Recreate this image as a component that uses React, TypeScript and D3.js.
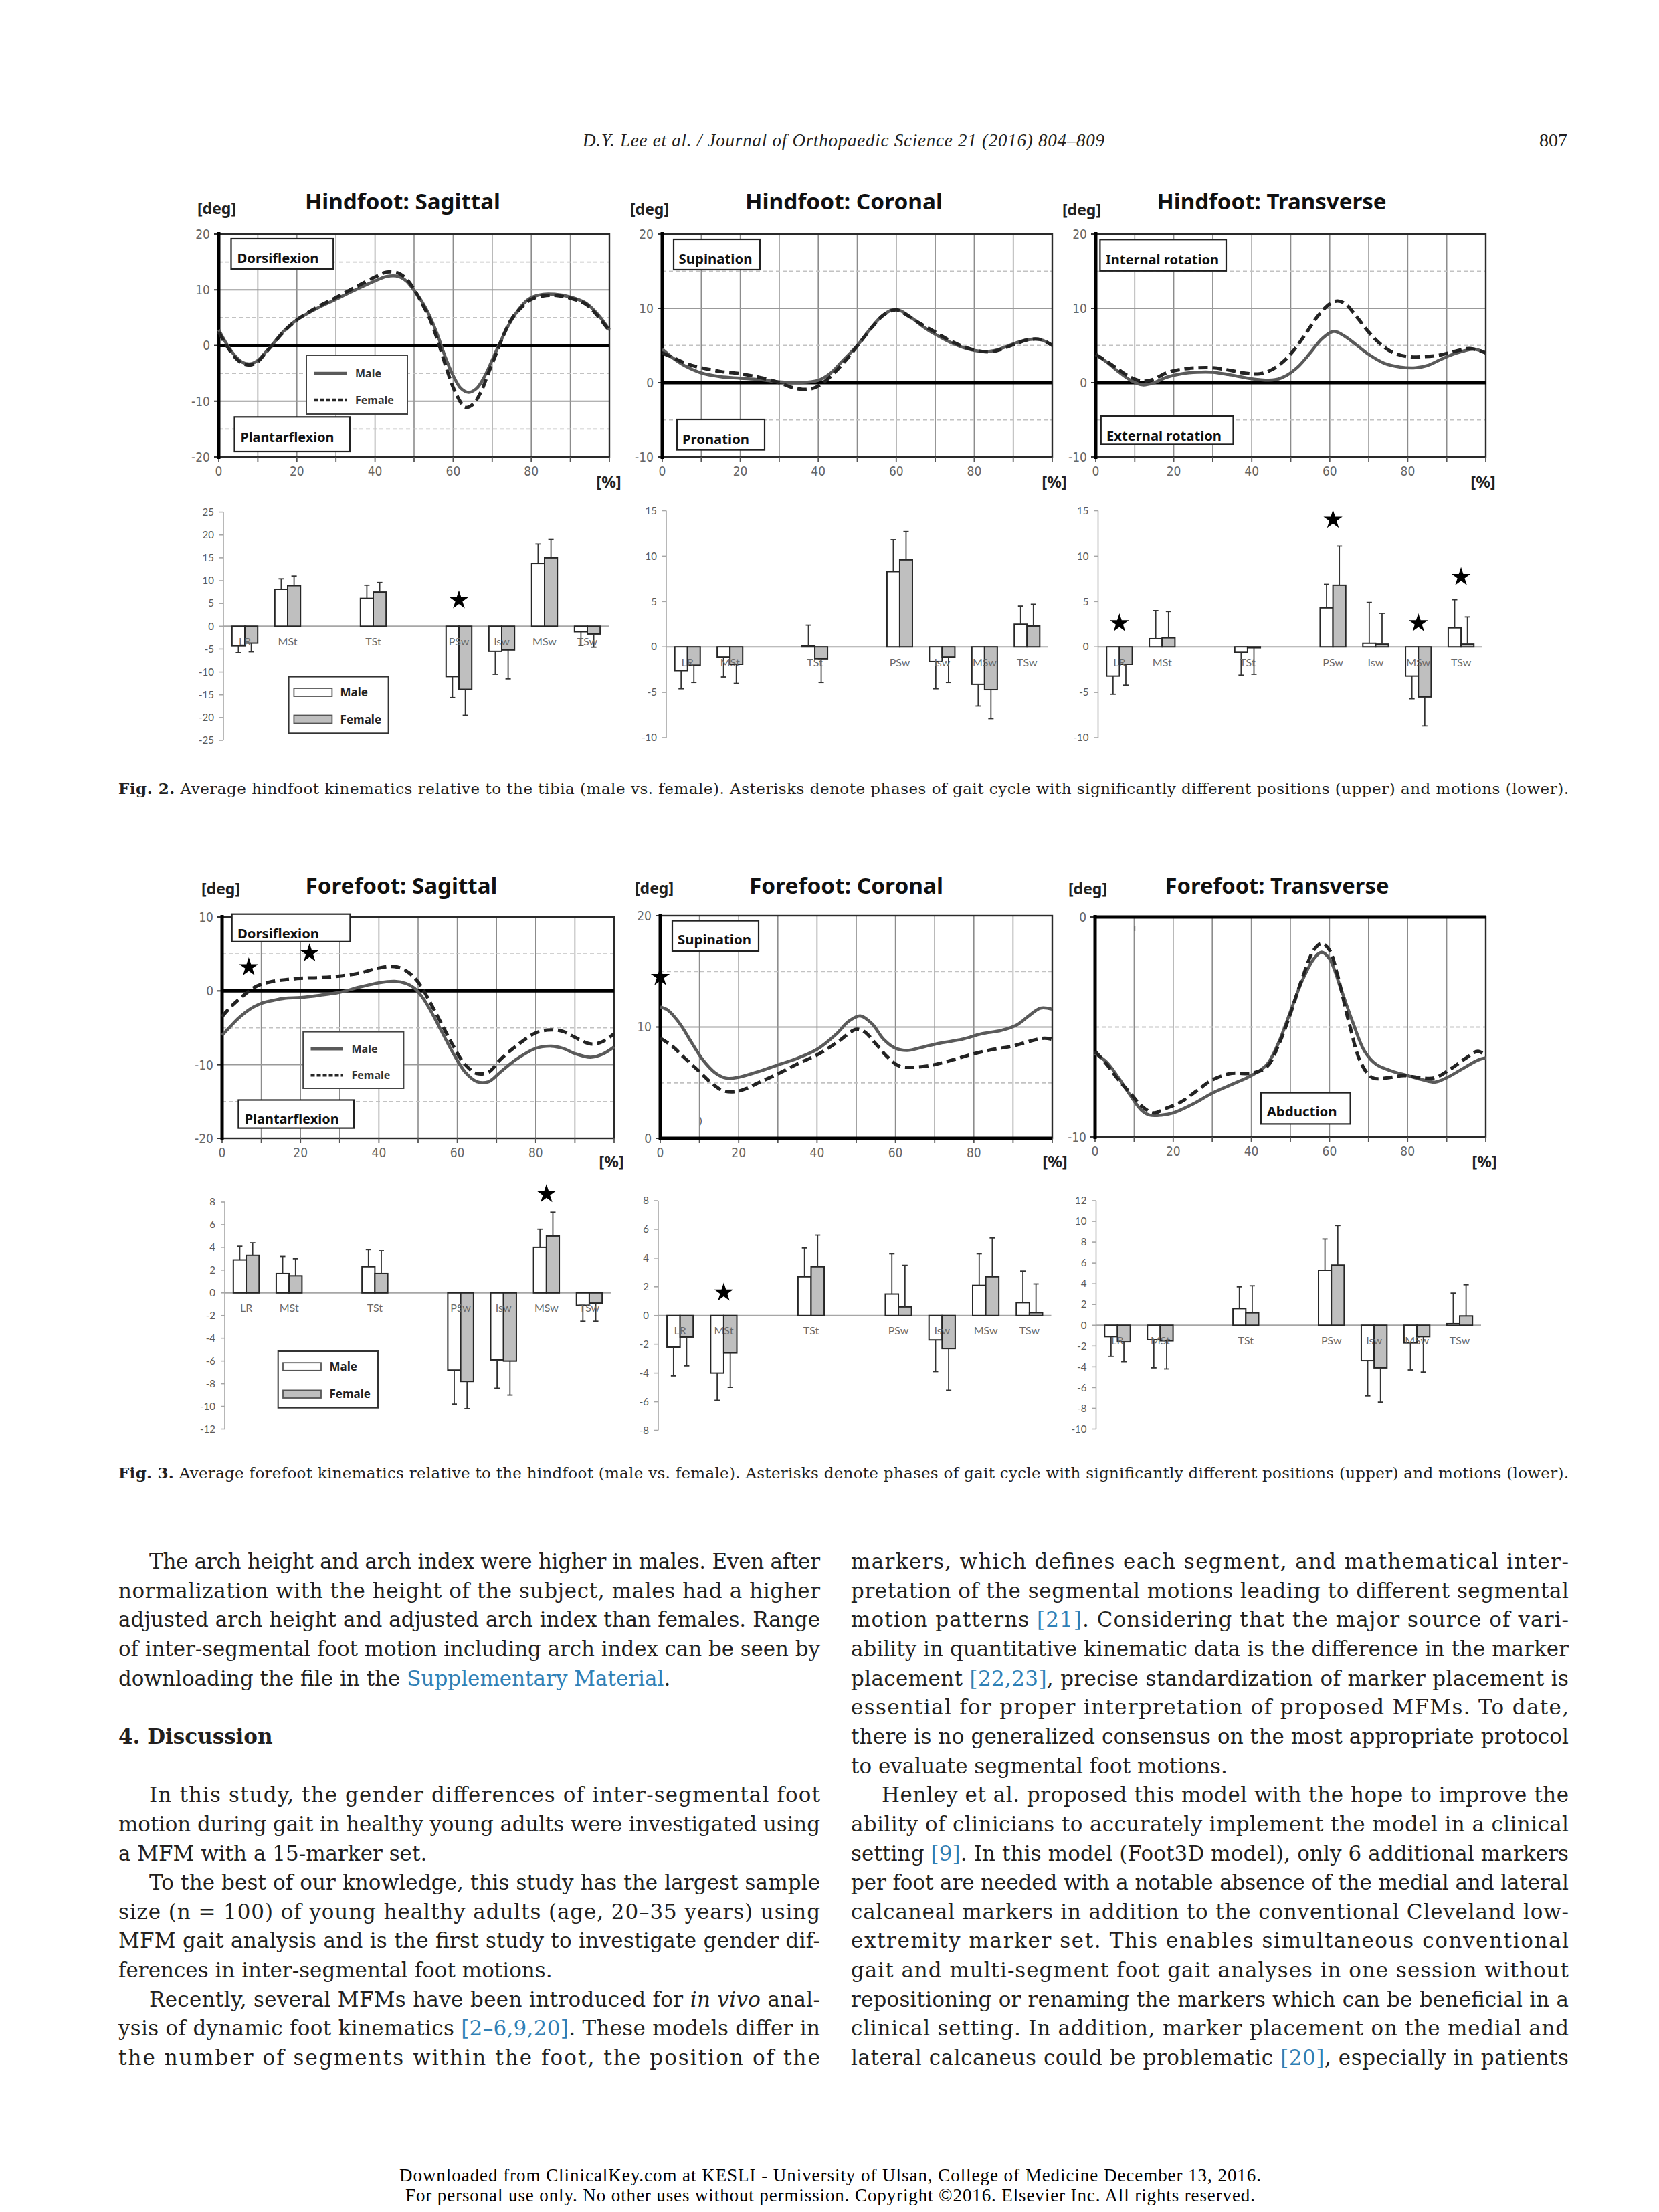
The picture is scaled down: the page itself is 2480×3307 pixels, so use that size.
import React from "react";
import * as d3 from "d3";

type Pt = [number, number];

// ------------------------------------------------------------------
// DATA
// ------------------------------------------------------------------
const hindSagMale: Pt[] = [[0,2.8],[2,0.3],[4,-1.7],[6,-3.0],[8,-3.3],[10,-2.7],[12,-1.2],[14,0.4],[16,2.1],[18,3.5],[20,4.6],[25,6.6],[30,8.3],[35,10.0],[40,11.6],[43,12.4],[46,12.4],[48,11.6],[50,9.9],[52,7.9],[54,5.3],[56,1.9],[58,-2.1],[60,-5.4],[62,-7.7],[64,-8.4],[66,-7.7],[68,-5.6],[70,-2.6],[72,0.5],[74,3.4],[76,5.7],[78,7.5],[80,8.6],[83,9.2],[86,9.2],[90,8.7],[94,7.6],[97,5.6],[100,2.8]];
const hindSagFemale: Pt[] = [[0,2.4],[2,0.0],[4,-2.0],[6,-3.2],[8,-3.5],[10,-2.9],[12,-1.3],[14,0.3],[16,2.0],[18,3.4],[20,4.6],[25,6.8],[30,8.6],[35,10.5],[40,12.3],[43,13.2],[46,13.0],[48,12.0],[50,10.1],[52,7.6],[54,4.8],[56,1.0],[58,-3.5],[60,-7.5],[62,-10.3],[63,-11.1],[65,-10.6],[67,-8.5],[69,-5.0],[71,-1.5],[73,2.0],[75,4.8],[78,7.2],[80,8.3],[83,8.9],[86,9.0],[90,8.5],[94,7.4],[97,5.3],[100,2.6]];

const hindCorMale: Pt[] = [[0,4.5],[3,3.2],[6,2.2],[10,1.3],[15,0.8],[20,0.6],[25,0.4],[30,0.1],[35,0.0],[40,0.3],[43,1.2],[46,2.8],[50,5.0],[53,7.0],[56,8.8],[59,9.8],[61,9.7],[64,8.7],[67,7.5],[70,6.5],[74,5.4],[78,4.6],[82,4.2],[85,4.3],[88,4.8],[91,5.4],[94,5.8],[97,5.8],[100,5.0]];
const hindCorFemale: Pt[] = [[0,4.0],[3,3.3],[6,2.6],[10,2.0],[15,1.5],[20,1.2],[25,0.7],[30,0.0],[33,-0.6],[36,-0.9],[39,-0.7],[42,0.3],[45,1.8],[48,3.6],[51,5.6],[54,7.6],[57,9.2],[60,9.8],[63,9.0],[66,8.0],[70,6.8],[74,5.6],[78,4.7],[82,4.2],[85,4.2],[88,4.7],[91,5.3],[94,5.8],[97,5.8],[100,5.0]];

const hindTraMale: Pt[] = [[0,3.8],[3,2.7],[6,1.4],[9,0.3],[12,-0.3],[15,0.0],[18,0.7],[22,1.2],[26,1.4],[30,1.4],[34,1.1],[38,0.7],[42,0.4],[46,0.4],[49,1.0],[52,2.2],[55,4.0],[58,5.9],[61,6.9],[64,6.2],[67,5.0],[70,3.8],[74,2.6],[78,2.1],[82,2.0],[85,2.3],[88,3.0],[91,3.7],[94,4.2],[97,4.5],[100,4.0]];
const hindTraFemale: Pt[] = [[0,3.8],[3,2.8],[6,1.7],[9,0.7],[12,0.2],[15,0.5],[18,1.3],[22,1.8],[26,2.0],[30,2.0],[34,1.7],[38,1.3],[42,1.2],[45,1.7],[48,2.8],[51,4.5],[54,6.7],[57,9.0],[60,10.6],[62,11.0],[64,10.6],[67,8.8],[70,6.8],[73,5.2],[76,4.1],[80,3.5],[84,3.5],[88,3.7],[92,4.2],[96,4.6],[100,4.0]];

const foreSagMale: Pt[] = [[0,-6.0],[2,-4.9],[4,-3.8],[6,-2.9],[8,-2.2],[10,-1.7],[13,-1.3],[16,-1.0],[20,-0.9],[25,-0.6],[30,-0.2],[35,0.5],[40,1.1],[44,1.3],[47,1.0],[49,0.4],[51,-0.8],[53,-2.5],[56,-5.5],[59,-8.5],[62,-11.0],[65,-12.3],[68,-12.3],[71,-11.0],[75,-9.3],[80,-7.8],[84,-7.5],[87,-7.8],[90,-8.5],[94,-9.0],[97,-8.6],[100,-7.6]];
const foreSagFemale: Pt[] = [[0,-3.5],[2,-2.3],[4,-1.3],[6,-0.4],[8,0.4],[10,0.9],[13,1.3],[16,1.5],[20,1.7],[25,1.8],[30,2.0],[35,2.4],[40,3.1],[44,3.3],[47,2.7],[50,1.2],[53,-1.5],[56,-4.5],[59,-7.5],[62,-10.0],[65,-11.2],[68,-11.0],[71,-9.3],[75,-7.5],[80,-5.7],[84,-5.3],[87,-5.5],[90,-6.3],[94,-7.2],[97,-6.9],[100,-5.8]];

const foreCorMale: Pt[] = [[0,11.8],[2,11.5],[5,10.3],[8,8.6],[11,7.0],[14,5.9],[17,5.4],[20,5.5],[25,6.0],[30,6.6],[35,7.2],[40,8.0],[45,9.4],[48,10.5],[51,11.0],[54,10.3],[57,8.9],[60,8.1],[63,7.9],[67,8.2],[72,8.6],[77,8.9],[82,9.4],[87,9.7],[91,10.2],[94,11.0],[97,11.7],[100,11.6]];
const foreCorFemale: Pt[] = [[0,9.0],[3,8.3],[6,7.3],[10,6.0],[13,5.0],[16,4.3],[19,4.2],[22,4.5],[25,5.0],[30,5.8],[35,6.7],[40,7.5],[45,8.6],[50,9.8],[52,9.6],[55,8.5],[58,7.3],[61,6.5],[64,6.4],[68,6.5],[72,6.8],[76,7.2],[80,7.6],[85,8.0],[90,8.3],[95,8.8],[98,9.0],[100,8.9]];

const foreTraMale: Pt[] = [[0,-6.2],[3,-6.6],[6,-7.3],[9,-8.1],[12,-8.8],[14,-9.0],[17,-9.0],[20,-8.9],[25,-8.5],[30,-8.0],[35,-7.6],[40,-7.2],[44,-6.7],[47,-5.7],[50,-4.3],[53,-2.9],[56,-1.9],[58,-1.6],[60,-1.9],[63,-3.3],[66,-4.8],[69,-6.1],[72,-6.7],[76,-7.0],[80,-7.2],[84,-7.4],[87,-7.5],[90,-7.3],[94,-6.9],[98,-6.5],[100,-6.4]];
const foreTraFemale: Pt[] = [[0,-6.1],[3,-6.7],[6,-7.4],[9,-8.0],[12,-8.6],[15,-8.9],[18,-8.7],[22,-8.4],[26,-7.9],[30,-7.4],[35,-7.1],[40,-7.1],[44,-6.8],[47,-5.8],[50,-4.4],[53,-2.8],[56,-1.5],[58,-1.2],[60,-1.5],[62,-2.6],[65,-4.8],[68,-6.6],[71,-7.3],[75,-7.3],[79,-7.2],[83,-7.3],[87,-7.3],[91,-6.9],[95,-6.4],[98,-6.1],[100,-6.3]];

// significance stars on the curves [gait %, deg]
const foreSagStars: Pt[] = [[6.8, 3.2], [22.3, 5.1]];
const foreCorStars: Pt[] = [[0, 14.5]];

const xTickLabels = [0, 20, 40, 60, 80];
const xGridValues = [10, 20, 30, 40, 50, 60, 70, 80, 90];

// gait phases (blank slots as in the source chart)
const phaseSlots = ["LR", "MSt", "gap1", "TSt", "gap2", "PSw", "Isw", "MSw", "TSw"];
const phaseLabels = ["LR", "MSt", "", "TSt", "", "PSw", "Isw", "MSw", "TSw"];
const phases = ["LR", "MSt", "TSt", "PSw", "Isw", "MSw", "TSw"];
const sexes = ["Male", "Female"];

// Hindfoot sagittal motion
const hsMale = [-4.3, 8.1, 6.1, -11.0, -5.5, 13.8, -1.2];
const hsMaleSD = [1.5, 2.3, 2.9, 4.6, 5.0, 4.2, 3.0];
const hsFemale = [-3.7, 8.9, 7.5, -13.8, -5.2, 15.0, -1.7];
const hsFemaleSD = [1.9, 2.1, 2.1, 5.7, 6.3, 4.0, 2.9];
const hsStars = [{ phase: "PSw", v: 5.7 }];
const hsTicks = [25, 20, 15, 10, 5, 0, -5, -10, -15, -20, -25];

// Hindfoot coronal motion
const hcMale = [-2.6, -1.1, 0.1, 8.3, -1.6, -4.1, 2.5];
const hcMaleSD = [2.0, 2.2, 2.3, 3.5, 3.0, 2.4, 2.0];
const hcFemale = [-2.0, -1.9, -1.3, 9.6, -1.1, -4.7, 2.3];
const hcFemaleSD = [1.9, 2.1, 2.6, 3.1, 2.8, 3.2, 2.4];
const hcStars: { phase: string; v: number }[] = [];
const hcTicks = [15, 10, 5, 0, -5, -10];

// Hindfoot transverse motion
const htMale = [-3.2, 0.9, -0.6, 4.3, 0.4, -3.2, 2.1];
const htMaleSD = [2.0, 3.1, 2.5, 2.6, 4.5, 2.5, 3.1];
const htFemale = [-1.9, 1.0, -0.1, 6.8, 0.3, -5.5, 0.3];
const htFemaleSD = [2.3, 2.9, 2.9, 4.3, 3.4, 3.2, 3.0];
const htStars = [{ phase: "LR", v: 2.6 }, { phase: "PSw", v: 14.0 }, { phase: "MSw", v: 2.6 }, { phase: "TSw", v: 7.7 }];
const htTicks = [15, 10, 5, 0, -5, -10];

// Forefoot sagittal motion
const fsMale = [2.9, 1.7, 2.3, -6.8, -5.9, 4.0, -1.1];
const fsMaleSD = [1.2, 1.5, 1.5, 3.0, 2.5, 1.6, 1.4];
const fsFemale = [3.3, 1.5, 1.7, -7.8, -6.0, 5.0, -0.9];
const fsFemaleSD = [1.1, 1.5, 2.0, 2.4, 3.0, 2.1, 1.6];
const fsStars = [{ phase: "MSw", v: 8.7 }];
const fsTicks = [8, 6, 4, 2, 0, -2, -4, -6, -8, -10, -12];

// Forefoot coronal motion
const fcMale = [-2.2, -4.0, 2.7, 1.5, -1.7, 2.1, 0.9];
const fcMaleSD = [2.0, 1.9, 2.0, 2.8, 2.2, 2.2, 2.2];
const fcFemale = [-1.5, -2.6, 3.4, 0.6, -2.3, 2.7, 0.2];
const fcFemaleSD = [2.0, 2.4, 2.2, 2.9, 2.9, 2.7, 2.0];
const fcStars = [{ phase: "MSt", v: 1.6 }];
const fcTicks = [8, 6, 4, 2, 0, -2, -4, -6, -8];

// Forefoot transverse motion
const ftMale = [-1.1, -1.4, 1.6, 5.3, -3.4, -1.7, 0.15];
const ftMaleSD = [1.9, 2.7, 2.1, 3.0, 3.4, 2.6, 2.95];
const ftFemale = [-1.6, -1.5, 1.2, 5.8, -4.1, -1.1, 0.9];
const ftFemaleSD = [1.9, 2.7, 2.6, 3.8, 3.3, 3.4, 3.0];
const ftStars: { phase: string; v: number }[] = [];
const ftTicks = [12, 10, 8, 6, 4, 2, 0, -2, -4, -6, -8, -10];

// ------------------------------------------------------------------
// TEXT
// ------------------------------------------------------------------
const headerText = "D.Y. Lee et al. / Journal of Orthopaedic Science 21 (2016) 804\u2013809";
const pageNumber = "807";
const fig2Caption = " Average hindfoot kinematics relative to the tibia (male vs. female). Asterisks denote phases of gait cycle with significantly different positions (upper) and motions (lower).";
const fig3Caption = " Average forefoot kinematics relative to the hindfoot (male vs. female). Asterisks denote phases of gait cycle with significantly different positions (upper) and motions (lower).";
const footer1 = "Downloaded from ClinicalKey.com at KESLI - University of Ulsan, College of Medicine December 13, 2016.";
const footer2 = "For personal use only. No other uses without permission. Copyright \u00a92016. Elsevier Inc. All rights reserved.";

type BodyLine = { i: number; t: string; j?: boolean; ind?: boolean; b?: boolean };
const leftLines: BodyLine[] = [
  { i: 0, t: "The arch height and arch index were higher in males. Even after", j: true, ind: true },
  { i: 1, t: "normalization with the height of the subject, males had a higher", j: true },
  { i: 2, t: "adjusted arch height and adjusted arch index than females. Range", j: true },
  { i: 3, t: "of inter-segmental foot motion including arch index can be seen by", j: true },
  { i: 4, t: "downloading the file in the {Supplementary Material}." },
  { i: 6, t: "4. Discussion", b: true },
  { i: 8, t: "In this study, the gender differences of inter-segmental foot", j: true, ind: true },
  { i: 9, t: "motion during gait in healthy young adults were investigated using", j: true },
  { i: 10, t: "a MFM with a 15-marker set." },
  { i: 11, t: "To the best of our knowledge, this study has the largest sample", j: true, ind: true },
  { i: 12, t: "size (n = 100) of young healthy adults (age, 20\u201335 years) using", j: true },
  { i: 13, t: "MFM gait analysis and is the first study to investigate gender dif-", j: true },
  { i: 14, t: "ferences in inter-segmental foot motions." },
  { i: 15, t: "Recently, several MFMs have been introduced for _in vivo_ anal-", j: true, ind: true },
  { i: 16, t: "ysis of dynamic foot kinematics {[2\u20136,9,20]}. These models differ in", j: true },
  { i: 17, t: "the number of segments within the foot, the position of the", j: true },
];
const rightLines: BodyLine[] = [
  { i: 0, t: "markers, which defines each segment, and mathematical inter-", j: true },
  { i: 1, t: "pretation of the segmental motions leading to different segmental", j: true },
  { i: 2, t: "motion patterns {[21]}. Considering that the major source of vari-", j: true },
  { i: 3, t: "ability in quantitative kinematic data is the difference in the marker", j: true },
  { i: 4, t: "placement {[22,23]}, precise standardization of marker placement is", j: true },
  { i: 5, t: "essential for proper interpretation of proposed MFMs. To date,", j: true },
  { i: 6, t: "there is no generalized consensus on the most appropriate protocol", j: true },
  { i: 7, t: "to evaluate segmental foot motions." },
  { i: 8, t: "Henley et al. proposed this model with the hope to improve the", j: true, ind: true },
  { i: 9, t: "ability of clinicians to accurately implement the model in a clinical", j: true },
  { i: 10, t: "setting {[9]}. In this model (Foot3D model), only 6 additional markers", j: true },
  { i: 11, t: "per foot are needed with a notable absence of the medial and lateral", j: true },
  { i: 12, t: "calcaneal markers in addition to the conventional Cleveland low-", j: true },
  { i: 13, t: "extremity marker set. This enables simultaneous conventional", j: true },
  { i: 14, t: "gait and multi-segment foot gait analyses in one session without", j: true },
  { i: 15, t: "repositioning or renaming the markers which can be beneficial in a", j: true },
  { i: 16, t: "clinical setting. In addition, marker placement on the medial and", j: true },
  { i: 17, t: "lateral calcaneus could be problematic {[20]}, especially in patients", j: true },
];

// ------------------------------------------------------------------
// LAYOUT / STYLE
// ------------------------------------------------------------------
const W = 2480;
const H = 3307;
const TITLE_FONT = "'Noto Sans', 'Open Sans', sans-serif";
const TICK_FONT = "'Liberation Sans Narrow', 'DejaVu Sans Condensed', 'Liberation Sans', sans-serif";
const BAR_FONT = "Lato, 'Open Sans', sans-serif";
const SERIF = "'Liberation Serif', 'DejaVu Serif', serif";
const BODY_SERIF = "'DejaVu Serif', 'Liberation Serif', serif";
const INK = "#231f20";
const LINK = "#2f7fb5";

type Box = { text: string; x: number; y: number; w: number; h: number; tx: number; ty: number; tw: number };
type LineCfg = {
  key: string; title: string; tcx: number; tby: number; tw: number;
  degX: number; degY: number; pctX: number; pctY: number;
  left: number; right: number; top: number; bottom: number;
  yDomain: [number, number]; yTicks: number[]; solid: number[]; dashed: number[];
  male: Pt[]; female: Pt[]; boxes: Box[]; stars: Pt[];
  legend?: { x: number; y: number; w: number; h: number; lx1: number; lx2: number; my: number; fy: number; tx: number };
  marks?: { kind: string; x: number; y: number }[];
};

const lineCharts: LineCfg[] = [
  {
    key: "hs", title: "Hindfoot: Sagittal", tcx: 602, tby: 313, tw: 292,
    degX: 295, degY: 320, pctX: 910, pctY: 729,
    left: 327, right: 911, top: 350, bottom: 683,
    yDomain: [-20, 20], yTicks: [20, 10, 0, -10, -20], solid: [10, -10], dashed: [15, 5, -5, -15],
    male: hindSagMale, female: hindSagFemale, stars: [],
    boxes: [
      { text: "Dorsiflexion", x: 345.5, y: 357, w: 152.7, h: 45, tx: 354.5, ty: 393, tw: 122 },
      { text: "Plantarflexion", x: 350.5, y: 623.3, w: 172.5, h: 51.7, tx: 359.4, ty: 661, tw: 140 },
    ],
    legend: { x: 458, y: 531, w: 151, h: 88, lx1: 470, lx2: 518, my: 558, fy: 598, tx: 531 },
  },
  {
    key: "hc", title: "Hindfoot: Coronal", tcx: 1261.5, tby: 313, tw: 295,
    degX: 942, degY: 321, pctX: 1576, pctY: 729,
    left: 990, right: 1573, top: 350, bottom: 683,
    yDomain: [-10, 20], yTicks: [20, 10, 0, -10], solid: [10], dashed: [15, 5, -5],
    male: hindCorMale, female: hindCorFemale, stars: [],
    boxes: [
      { text: "Supination", x: 1007, y: 358, w: 129, h: 45, tx: 1014.5, ty: 394, tw: 110 },
      { text: "Pronation", x: 1012, y: 627, w: 131, h: 45.6, tx: 1020, ty: 664, tw: 100 },
    ],
  },
  {
    key: "ht", title: "Hindfoot: Transverse", tcx: 1901, tby: 313, tw: 343,
    degX: 1588, degY: 322, pctX: 2217, pctY: 729,
    left: 1638, right: 2221, top: 350, bottom: 683,
    yDomain: [-10, 20], yTicks: [20, 10, 0, -10], solid: [10], dashed: [15, 5, -5],
    male: hindTraMale, female: hindTraFemale, stars: [],
    boxes: [
      { text: "Internal rotation", x: 1644.4, y: 358.3, w: 188.6, h: 46.5, tx: 1653, ty: 395, tw: 169 },
      { text: "External rotation", x: 1645.8, y: 622, w: 197.7, h: 42.4, tx: 1654, ty: 658.5, tw: 172 },
    ],
  },
  {
    key: "fs", title: "Forefoot: Sagittal", tcx: 600, tby: 1336, tw: 287,
    degX: 301, degY: 1337, pctX: 914, pctY: 1745,
    left: 332, right: 918, top: 1371, bottom: 1702,
    yDomain: [-20, 10], yTicks: [10, 0, -10, -20], solid: [-10], dashed: [5, -5, -15],
    male: foreSagMale, female: foreSagFemale, stars: foreSagStars,
    boxes: [
      { text: "Dorsiflexion", x: 346.7, y: 1366.7, w: 176.7, h: 41.1, tx: 355, ty: 1402.5, tw: 122 },
      { text: "Plantarflexion", x: 356.4, y: 1644.5, w: 172.5, h: 42.1, tx: 365.7, ty: 1680, tw: 141 },
    ],
    legend: { x: 453.2, y: 1542.6, w: 150.2, h: 84.4, lx1: 464.5, lx2: 512, my: 1568.2, fy: 1607.3, tx: 525.5 },
  },
  {
    key: "fc", title: "Forefoot: Coronal", tcx: 1265, tby: 1336, tw: 290,
    degX: 949, degY: 1336, pctX: 1577, pctY: 1745,
    left: 987, right: 1573, top: 1369, bottom: 1702,
    yDomain: [0, 20], yTicks: [20, 10, 0], solid: [10], dashed: [15, 5],
    male: foreCorMale, female: foreCorFemale, stars: foreCorStars,
    boxes: [
      { text: "Supination", x: 1005, y: 1376.6, w: 129, h: 45.4, tx: 1013, ty: 1412, tw: 110 },
    ],
    marks: [{ kind: "paren", x: 1045, y: 1681 }],
  },
  {
    key: "ft", title: "Forefoot: Transverse", tcx: 1909, tby: 1336, tw: 335,
    degX: 1597, degY: 1337, pctX: 2219, pctY: 1745,
    left: 1637, right: 2221, top: 1371, bottom: 1700,
    yDomain: [-10, 0], yTicks: [0, -10], solid: [], dashed: [-5],
    male: foreTraMale, female: foreTraFemale, stars: [],
    boxes: [
      { text: "Abduction", x: 1885, y: 1633.6, w: 133.6, h: 46.8, tx: 1893.7, ty: 1669, tw: 105 },
    ],
    marks: [{ kind: "tick", x: 1696.4, y: 1384 }],
  },
];

type BarCfg = {
  key: string; left: number; right: number; top: number; bottom: number;
  ticks: number[]; male: number[]; maleSD: number[]; female: number[]; femaleSD: number[];
  stars: { phase: string; v: number }[];
  legend?: { x: number; y: number; w: number; h: number; sx: number; sw: number; my: number; fy: number; sh: number; tx: number };
};

const barCharts: BarCfg[] = [
  { key: "hsb", left: 334, right: 910, top: 765.6, bottom: 1107, ticks: hsTicks, male: hsMale, maleSD: hsMaleSD, female: hsFemale, femaleSD: hsFemaleSD, stars: hsStars,
    legend: { x: 431.6, y: 1011.6, w: 149, h: 84.7, sx: 439.4, sw: 57, my: 1029, fy: 1069.5, sh: 12, tx: 508.6 } },
  { key: "hcb", left: 996, right: 1567, top: 763.5, bottom: 1103, ticks: hcTicks, male: hcMale, maleSD: hcMaleSD, female: hcFemale, femaleSD: hcFemaleSD, stars: hcStars },
  { key: "htb", left: 1641.5, right: 2216, top: 763.5, bottom: 1103, ticks: htTicks, male: htMale, maleSD: htMaleSD, female: htFemale, femaleSD: htFemaleSD, stars: htStars },
  { key: "fsb", left: 336, right: 913, top: 1797, bottom: 2136.5, ticks: fsTicks, male: fsMale, maleSD: fsMaleSD, female: fsFemale, femaleSD: fsFemaleSD, stars: fsStars,
    legend: { x: 415.7, y: 2020, w: 149.3, h: 84.7, sx: 423, sw: 57, my: 2037.2, fy: 2078.4, sh: 11.6, tx: 492.5 } },
  { key: "fcb", left: 984, right: 1571.5, top: 1795, bottom: 2138.5, ticks: fcTicks, male: fcMale, maleSD: fcMaleSD, female: fcFemale, femaleSD: fcFemaleSD, stars: fcStars },
  { key: "ftb", left: 1638.5, right: 2214, top: 1795, bottom: 2136.5, ticks: ftTicks, male: ftMale, maleSD: ftMaleSD, female: ftFemale, femaleSD: ftFemaleSD, stars: ftStars },
];

const starPath = d3.symbol(d3.symbolStar, 250)() as string;

// ------------------------------------------------------------------
// COMPONENTS
// ------------------------------------------------------------------
function LineChart({ c }: { c: LineCfg }) {
  const x = d3.scaleLinear().domain([0, 100]).range([c.left, c.right]);
  const y = d3.scaleLinear().domain(c.yDomain).range([c.bottom, c.top]);
  const line = d3
    .line<Pt>()
    .x((d) => x(d[0]))
    .y((d) => y(d[1]))
    .curve(d3.curveCatmullRom.alpha(0.5));
  const allX = d3.range(0, 101, 10);
  return (
    <g>
      {xGridValues.map((v) => (
        <line key={"vx" + v} x1={x(v)} x2={x(v)} y1={c.top} y2={c.bottom} stroke="#8c8c8c" strokeWidth={1.6} />
      ))}
      {c.dashed.map((v) => (
        <line key={"hd" + v} x1={c.left} x2={c.right} y1={y(v)} y2={y(v)} stroke="#c2c2c2" strokeWidth={1.8} strokeDasharray="6 4" />
      ))}
      {c.solid.map((v) => (
        <line key={"hs" + v} x1={c.left} x2={c.right} y1={y(v)} y2={y(v)} stroke="#999" strokeWidth={1.8} />
      ))}
      <rect x={c.left} y={c.top} width={c.right - c.left} height={c.bottom - c.top} fill="none" stroke="#2a2a2a" strokeWidth={2.4} />
      {allX.map((v) => (
        <line key={"xt" + v} x1={x(v)} x2={x(v)} y1={c.bottom} y2={c.bottom + 7} stroke="#555" strokeWidth={1.8} />
      ))}
      {c.yTicks.map((v) => (
        <line key={"yt" + v} x1={c.left - 7} x2={c.left} y1={y(v)} y2={y(v)} stroke="#333" strokeWidth={2} />
      ))}
      {c.yTicks.map((v) => (
        <text key={"yl" + v} x={c.left - 13} y={y(v)} dy="0.36em" textAnchor="end" fontFamily={TICK_FONT} fontSize={19} fill="#666">
          {String(v)}
        </text>
      ))}
      {xTickLabels.map((v) => (
        <text key={"xl" + v} x={x(v)} y={c.bottom + 21} dy="0.36em" textAnchor="middle" fontFamily={TICK_FONT} fontSize={19} fill="#666">
          {String(v)}
        </text>
      ))}
      <text x={c.tcx} y={c.tby} textAnchor="middle" fontFamily={TITLE_FONT} fontWeight="bold" fontSize={33} fill="#111" textLength={c.tw} lengthAdjust="spacingAndGlyphs">
        {c.title}
      </text>
      <text x={c.degX} y={c.degY} fontFamily={TITLE_FONT} fontWeight="bold" fontSize={23} fill="#222" textLength={58} lengthAdjust="spacingAndGlyphs">
        [deg]
      </text>
      <text x={c.pctX} y={c.pctY} textAnchor="middle" fontFamily={TITLE_FONT} fontWeight="bold" fontSize={24} fill="#222">
        [%]
      </text>
      {c.boxes.map((b) => (
        <g key={b.text}>
          <rect x={b.x} y={b.y} width={b.w} height={b.h} fill="#fff" stroke="#222" strokeWidth={2.2} />
          <text x={b.tx} y={b.ty} fontFamily={TITLE_FONT} fontWeight="bold" fontSize={20} fill="#111" textLength={b.tw} lengthAdjust="spacingAndGlyphs">
            {b.text}
          </text>
        </g>
      ))}
      {c.legend && (
        <g>
          <rect x={c.legend.x} y={c.legend.y} width={c.legend.w} height={c.legend.h} fill="#fff" stroke="#444" strokeWidth={2} />
          <line x1={c.legend.lx1} x2={c.legend.lx2} y1={c.legend.my} y2={c.legend.my} stroke="#5a5a5a" strokeWidth={4.5} />
          <line x1={c.legend.lx1} x2={c.legend.lx2} y1={c.legend.fy} y2={c.legend.fy} stroke="#262626" strokeWidth={4.5} strokeDasharray="6 3" />
          <text x={c.legend.tx} y={c.legend.my} dy="0.35em" fontFamily={TITLE_FONT} fontWeight="bold" fontSize={16} fill="#333">Male</text>
          <text x={c.legend.tx} y={c.legend.fy} dy="0.35em" fontFamily={TITLE_FONT} fontWeight="bold" fontSize={16} fill="#333">Female</text>
        </g>
      )}
      {c.marks &&
        c.marks.map((m, i) =>
          m.kind === "paren" ? (
            <text key={"m" + i} x={m.x} y={m.y} fontFamily={TICK_FONT} fontSize={14} fill="#444">)</text>
          ) : (
            <line key={"m" + i} x1={m.x} x2={m.x} y1={m.y} y2={m.y + 8} stroke="#444" strokeWidth={1.5} />
          )
        )}
      <line x1={c.left} x2={c.right} y1={y(0)} y2={y(0)} stroke="#000" strokeWidth={5} />
      <line x1={c.left} x2={c.left} y1={c.top - 3} y2={c.bottom + 3} stroke="#000" strokeWidth={5} />
      <path d={line(c.male) || ""} fill="none" stroke="#5a5a5a" strokeWidth={4.6} strokeLinejoin="round" />
      <path d={line(c.female) || ""} fill="none" stroke="#232323" strokeWidth={5} strokeDasharray="14 7" />
      {c.stars.map((s, i) => (
        <path key={"st" + i} d={starPath} transform={`translate(${x(s[0])},${y(s[1])})`} fill="#000" />
      ))}
    </g>
  );
}

function BarChart({ c }: { c: BarCfg }) {
  const x0 = d3.scaleBand<string>().domain(phaseSlots).range([c.left, c.right]).padding(0);
  const x1 = d3.scaleBand<string>().domain(sexes).range([0, x0.bandwidth()]).paddingInner(0).paddingOuter(2 / 3);
  const yMin = d3.min(c.ticks) as number;
  const yMax = d3.max(c.ticks) as number;
  const y = d3.scaleLinear().domain([yMin, yMax]).range([c.bottom, c.top]);
  const y0 = y(0);
  const series = [
    { sex: "Male", vals: c.male, sd: c.maleSD, fill: "#ffffff" },
    { sex: "Female", vals: c.female, sd: c.femaleSD, fill: "#bfbfbf" },
  ];
  const bw = x1.bandwidth();
  return (
    <g>
      <line x1={c.left} x2={c.left} y1={c.top} y2={c.bottom} stroke="#a6a6a6" strokeWidth={1.6} />
      {c.ticks.map((t) => (
        <g key={"t" + t}>
          <line x1={c.left - 6} x2={c.left} y1={y(t)} y2={y(t)} stroke="#a6a6a6" strokeWidth={1.6} />
          <text x={c.left - 14} y={y(t)} dy="0.35em" textAnchor="end" fontFamily={BAR_FONT} fontSize={15} fill="#595959">
            {String(t)}
          </text>
        </g>
      ))}
      <line x1={c.left} x2={c.right} y1={y0} y2={y0} stroke="#a6a6a6" strokeWidth={2} />
      {series.map((s) =>
        phases.map((p, i) => {
          const v = s.vals[i];
          const bx = (x0(p) as number) + (x1(s.sex) as number);
          const yv = y(v);
          const sign = v >= 0 ? 1 : -1;
          const ye = y(v + sign * s.sd[i]);
          const cx = bx + bw / 2;
          return (
            <g key={s.sex + p}>
              <rect x={bx} y={Math.min(yv, y0)} width={bw} height={Math.abs(yv - y0)} fill={s.fill} stroke="#262626" strokeWidth={2} />
              <line x1={cx} x2={cx} y1={yv} y2={ye} stroke="#333" strokeWidth={1.8} />
              <line x1={cx - 4} x2={cx + 4} y1={ye} y2={ye} stroke="#333" strokeWidth={1.8} />
            </g>
          );
        })
      )}
      {phaseSlots.map((p, i) => (
        <text key={"c" + p} x={(x0(p) as number) + x0.bandwidth() / 2} y={y0 + 23} dy="0.35em" textAnchor="middle" fontFamily={BAR_FONT} fontSize={16} fill="#6a6a6a">
          {phaseLabels[i]}
        </text>
      ))}
      {c.stars.map((s, i) => (
        <path key={"s" + i} d={starPath} transform={`translate(${(x0(s.phase) as number) + x0.bandwidth() / 2},${y(s.v)})`} fill="#000" />
      ))}
      {c.legend && (
        <g>
          <rect x={c.legend.x} y={c.legend.y} width={c.legend.w} height={c.legend.h} fill="#fff" stroke="#333" strokeWidth={2} />
          <rect x={c.legend.sx} y={c.legend.my} width={c.legend.sw} height={c.legend.sh} fill="#fff" stroke="#555" strokeWidth={1.8} />
          <rect x={c.legend.sx} y={c.legend.fy} width={c.legend.sw} height={c.legend.sh} fill="#bfbfbf" stroke="#555" strokeWidth={1.8} />
          <text x={c.legend.tx} y={c.legend.my + c.legend.sh / 2} dy="0.36em" fontFamily={TITLE_FONT} fontWeight="bold" fontSize={17} fill="#222">Male</text>
          <text x={c.legend.tx} y={c.legend.fy + c.legend.sh / 2} dy="0.36em" fontFamily={TITLE_FONT} fontWeight="bold" fontSize={17} fill="#222">Female</text>
        </g>
      )}
    </g>
  );
}

function renderSegs(t: string) {
  const parts = t.split(/(\{[^}]*\}|_[^_]*_)/).filter((s) => s.length > 0);
  return parts.map((p, i) => {
    if (p.startsWith("{")) return <tspan key={i} fill={LINK}>{p.slice(1, -1)}</tspan>;
    if (p.startsWith("_") && p.endsWith("_") && p.length > 1) return <tspan key={i} fontStyle="italic">{p.slice(1, -1)}</tspan>;
    return <tspan key={i}>{p}</tspan>;
  });
}

function Column({ lines, x0, width }: { lines: BodyLine[]; x0: number; width: number }) {
  const base = 2345;
  const lead = 43.65;
  const indent = 46;
  return (
    <g>
      {lines.map((l) => {
        const x = x0 + (l.ind ? indent : 0);
        const w = width - (l.ind ? indent : 0);
        const props: any = l.j ? { textLength: w, lengthAdjust: "spacing" } : {};
        return (
          <text key={l.i} x={x} y={base + l.i * lead} fontFamily={BODY_SERIF} fontSize={31} fontWeight={l.b ? "bold" : "normal"} fill={INK} style={{ whiteSpace: "pre" }} {...props}>
            {renderSegs(l.t)}
          </text>
        );
      })}
    </g>
  );
}

export default function App() {
  return (
    <svg width={W} height={H} viewBox={`0 0 ${W} ${H}`} style={{ position: "absolute", left: 0, top: 0, display: "block" }}>
      <rect x={0} y={0} width={W} height={H} fill="#fff" />
      <text x={1261} y={219} textAnchor="middle" fontFamily={SERIF} fontStyle="italic" fontSize={27} fill={INK} textLength={780} lengthAdjust="spacing">
        {headerText}
      </text>
      <text x={2343} y={219} textAnchor="end" fontFamily={SERIF} fontSize={28} fill={INK}>
        {pageNumber}
      </text>

      {lineCharts.map((c) => (
        <LineChart key={c.key} c={c} />
      ))}
      {barCharts.map((c) => (
        <BarChart key={c.key} c={c} />
      ))}

      <text x={177} y={1187} fontFamily={BODY_SERIF} fontSize={23} fill={INK} textLength={2168} lengthAdjust="spacing" style={{ whiteSpace: "pre" }}>
        <tspan fontWeight="bold">Fig. 2.</tspan>
        <tspan>{fig2Caption}</tspan>
      </text>
      <text x={177} y={2210} fontFamily={BODY_SERIF} fontSize={23} fill={INK} textLength={2168} lengthAdjust="spacing" style={{ whiteSpace: "pre" }}>
        <tspan fontWeight="bold">Fig. 3.</tspan>
        <tspan>{fig3Caption}</tspan>
      </text>

      <Column lines={leftLines} x0={177} width={1049} />
      <Column lines={rightLines} x0={1272} width={1073} />

      <text x={1241} y={3261} textAnchor="middle" fontFamily={SERIF} fontSize={27} fill="#000" textLength={1288} lengthAdjust="spacing">
        {footer1}
      </text>
      <text x={1241} y={3291} textAnchor="middle" fontFamily={SERIF} fontSize={27} fill="#000" textLength={1270} lengthAdjust="spacing">
        {footer2}
      </text>
    </svg>
  );
}
